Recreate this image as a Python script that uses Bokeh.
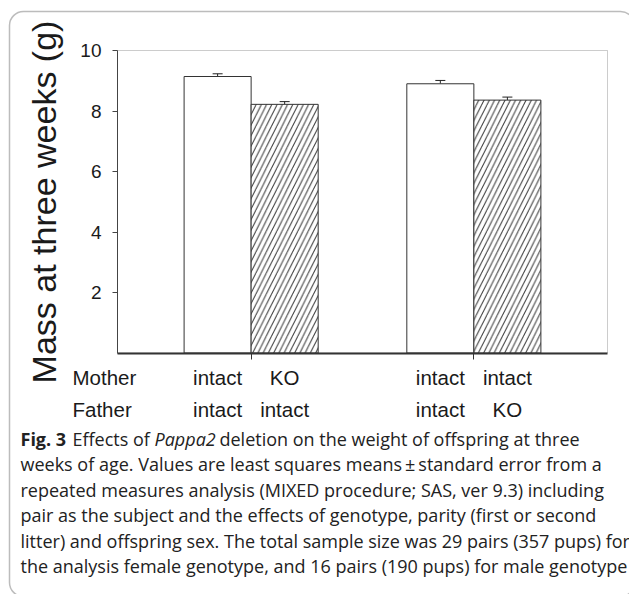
from bokeh.plotting import figure
from bokeh.models import (Range1d, FixedTicker, ColumnDataSource, Whisker, LinearAxis,
                          TeeHead, LabelSet, BoxAnnotation)
from bokeh.core.properties import value
from bokeh.transform import dodge
from bokeh.embed import file_html
from bokeh.resources import INLINE

# ---------------- data ----------------
groups = ["Female genotype", "Male genotype"]
control_mass = [9.14, 8.90]
control_se = [0.09, 0.11]
ko_mass = [8.22, 8.36]
ko_se = [0.09, 0.10]
mother_control = ["intact", "intact"]
mother_ko = ["KO", "intact"]
father_control = ["intact", "intact"]
father_ko = ["intact", "KO"]
y_ticks = [2, 4, 6, 8, 10]
y_max = 10
y_label = "Mass at three weeks (g)"
row_labels = ["Mother", "Father"]
caption_first = [("Fig. 3", "bold"), ("Effects of", "normal"), ("Pappa2", "italic"),
                 ("deletion on the weight of offspring at three", "normal")]
caption_lines = [
    "weeks of age. Values are least squares means\u2009\u00b1\u2009standard error from a",
    "repeated measures analysis (MIXED procedure; SAS, ver 9.3) including",
    "pair as the subject and the effects of genotype, parity (first or second",
    "litter) and offspring sex. The total sample size was 29 pairs (357 pups) for",
    "the analysis female genotype, and 16 pairs (190 pups) for male genotype",
]

# ---------------- layout constants ----------------
W, H = 629, 594
CH_L, CH_R, CH_T, CH_B = 117, 607, 50, 352.5   # chart box, in pixels
PAD = 0.6                                      # group units left/right of the groups
BW = 0.301                                     # bar width, group units
OFF = BW / 2
SANS = "Liberation Sans"
CAP = "Open Sans"
CAP_SIZE = "18px"
INK = "#1a1a1a"

ppx = (CH_R - CH_L) / (len(groups) - 1 + 2 * PAD)
ppy = (CH_B - CH_T) / y_max
x_range = Range1d(-PAD - CH_L / ppx, (len(groups) - 1) + PAD + (W - CH_R) / ppx)
y_range = Range1d(-(H - CH_B) / ppy, y_max + CH_T / ppy)

gx = list(range(len(groups)))
ctrl = ColumnDataSource(dict(gx=gx, top=control_mass,
                             up=[m + s for m, s in zip(control_mass, control_se)],
                             mother=mother_control, father=father_control))
ko = ColumnDataSource(dict(gx=gx, top=ko_mass,
                           up=[m + s for m, s in zip(ko_mass, ko_se)],
                           mother=mother_ko, father=father_ko))

p = figure(width=W, height=H, x_range=x_range, y_range=y_range,
           output_backend="svg", toolbar_location=None, x_axis_type=None, y_axis_type=None,
           min_border=0, min_border_left=0, min_border_right=0, min_border_top=0, min_border_bottom=0)
p.xgrid.visible = False
p.ygrid.visible = False
p.outline_line_color = None
p.background_fill_color = "white"
p.border_fill_color = "white"

# chart box (top and right edges)
p.add_layout(BoxAnnotation(left=-PAD, right=len(groups) - 1 + PAD, bottom=0, top=y_max,
                           fill_color=None, line_color="#555555", line_width=1, level="underlay"))

p.vbar(x=dodge("gx", -OFF), top="top", bottom=0, width=BW, source=ctrl,
       fill_color="white", line_color="#333333", line_width=1)
p.vbar(x=dodge("gx", OFF), top="top", bottom=0, width=BW, source=ko,
       fill_color="white", line_color="#333333", line_width=1,
       hatch_pattern="/", hatch_color="#333333", hatch_scale=10.5, hatch_weight=1)

for src, off in ((ctrl, -OFF), (ko, OFF)):
    p.add_layout(Whisker(base=dodge("gx", off), upper="up", lower="top", source=src,
                         upper_head=TeeHead(size=10, line_color="#222222", line_width=1), lower_head=None,
                         line_color="#222222", line_width=1))

# axes, fixed at the chart box
yax = LinearAxis(fixed_location=-PAD, bounds=(0, y_max), ticker=FixedTicker(ticks=y_ticks))
yax.minor_tick_line_color = None
yax.major_tick_in = 0
yax.major_tick_out = 5
yax.axis_line_color = "#444444"
yax.major_tick_line_color = "#444444"
yax.major_label_text_font = SANS
yax.major_label_text_font_size = "19px"
yax.major_label_text_color = INK
yax.major_label_standoff = 11
yax.axis_label = y_label
yax.axis_label_text_font = SANS
yax.axis_label_text_font_size = "34px"
yax.axis_label_text_font_style = "normal"
yax.axis_label_text_color = INK
yax.axis_label_standoff = 14
p.add_layout(yax, "left")

xax = LinearAxis(fixed_location=0, bounds=(-PAD, len(groups) - 1 + PAD), ticker=FixedTicker(ticks=gx))
xax.major_label_overrides = {g: "" for g in gx}
xax.minor_tick_line_color = None
xax.axis_line_width = 2
xax.axis_line_color = "#333333"
xax.major_tick_in = 0
xax.major_tick_out = 6
xax.major_tick_line_color = "#333333"
p.add_layout(xax, "below")


def text_at(x, y_top, texts, font, size, style="normal", color=INK, x_units="screen"):
    """Place texts with their baseline at y_top pixels from the top of the canvas."""
    src = ColumnDataSource(dict(x=x, y=[H - y for y in y_top], t=texts))
    p.add_layout(LabelSet(x="x", y="y", text="t", source=src, x_units=x_units, y_units="screen",
                          text_align="left", text_baseline="alphabetic",
                          text_font=value(font), text_font_size=value(size),
                          text_font_style=value(style), text_color=color))


# row labels under the bars
MOTHER_Y, FATHER_Y = 384, 416
for src, off in ((ctrl, -OFF), (ko, OFF)):
    for col, yy in (("mother", MOTHER_Y), ("father", FATHER_Y)):
        p.add_layout(LabelSet(x=dodge("gx", off), y=H - yy, y_units="screen", text=col,
                              source=src, text_align="center", text_baseline="alphabetic",
                              text_font=value(SANS), text_font_size=value("20.5px"), text_color=INK))
text_at([72, 72], [MOTHER_Y, FATHER_Y], row_labels, SANS, "20.5px")

# caption
CAP_X = 20
BASE0 = 445
STEP = 25.5
run_x = [CAP_X, 72, 154, 219]
for (txt, st), xx in zip(caption_first, run_x):
    text_at([xx], [BASE0], [txt], CAP, CAP_SIZE, st, "#222222")
text_at([CAP_X] * len(caption_lines), [BASE0 + STEP * (i + 1) for i in range(len(caption_lines))],
        caption_lines, CAP, CAP_SIZE, "normal", "#222222")

# rounded frame round the figure
p.add_layout(BoxAnnotation(left=9, right=634, top=H - 11, bottom=-2,
                           left_units="screen", right_units="screen", top_units="screen", bottom_units="screen",
                           fill_color=None, line_color="#222222", line_width=1.5, border_radius=14,
                           level="overlay"))

open("out.html", "w").write(file_html(p, INLINE))
